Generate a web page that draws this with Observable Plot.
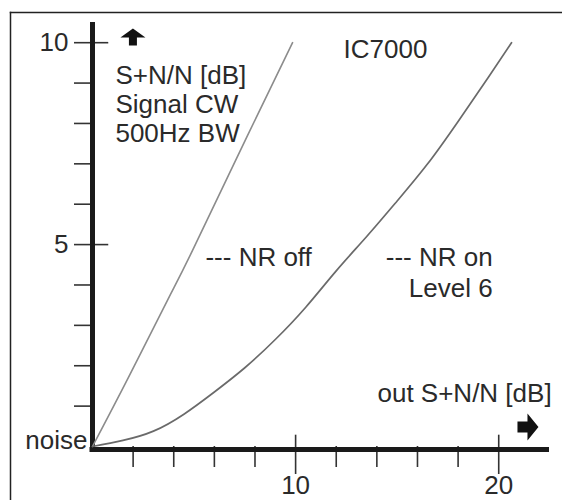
<!DOCTYPE html>
<html><head><meta charset="utf-8">
<script src="https://cdn.jsdelivr.net/npm/d3@7"></script>
<script src="https://cdn.jsdelivr.net/npm/@observablehq/plot@0.6"></script>
<style>body{margin:0;background:#fff}</style>
</head><body><div id="chart"></div>
<script>
// Data
const nrOffX = [0, 1.77, 3.69, 4.92, 7.63, 9.85];
const nrOffY = [0, 1.71, 3.62, 4.85, 7.7, 10];
const nrOnX = [0, 1.5, 3, 4.5, 6, 7.5, 9, 10.5, 12, 13.5, 15, 16.5, 18, 19.5, 20.63];
const nrOnY = [0, 0.15, 0.38, 0.8, 1.35, 1.95, 2.65, 3.45, 4.35, 5.2, 6.08, 7.0, 8.05, 9.15, 10];
const xMajorTicks = [10, 20];
const xMinorTicks = [2, 4, 6, 8, 12, 14, 16, 18];
const yMajorTicks = [5, 10];
const yMinorTicks = [1, 2, 3, 4, 6, 7, 8, 9];
const startNotes = [
  {text: "IC7000", x: 12.36, y: 9.63},
  {text: "--- NR off", x: 5.56, y: 4.48},
  {text: "out S+N/N [dB]", x: 14.03, y: 1.09}
];
const yTitle = [{text: "S+N/N [dB]\nSignal CW\n500Hz BW", x: 1.13, y: 7.53}];
const nrOnNote = [{text: "--- NR on\nLevel 6", x: 19.7, y: 3.69}];
const noiseNote = [{text: "noise", x: -0.25, y: -0.07}];
const upArrows = [{x: 1.99, y: 10.14}];
const rightArrows = [{x: 21.44, y: 0.48}];

const offData = nrOffX.map((x, i) => ({x, y: nrOffY[i]}));
const onData = nrOnX.map((x, i) => ({x, y: nrOnY[i]}));

const upArrow = {draw(c) {
  c.moveTo(0, -8.5); c.lineTo(12.5, 0.5); c.lineTo(4, 0.5); c.lineTo(4, 8.5);
  c.lineTo(-4, 8.5); c.lineTo(-4, 0.5); c.lineTo(-12.5, 0.5); c.closePath();
}};
const rightArrow = {draw(c) {
  c.moveTo(10.5, 0); c.lineTo(-0.5, 13.5); c.lineTo(-0.5, 5.5); c.lineTo(-10.5, 5.5);
  c.lineTo(-10.5, -5.5); c.lineTo(-0.5, -5.5); c.lineTo(-0.5, -13.5); c.closePath();
}};

const ink = "#2a2a2a";
const fs = 26;

const chart = Plot.plot({
  width: 562, height: 500,
  marginLeft: 92, marginRight: 13, marginTop: 22, marginBottom: 54,
  x: {domain: [0, 22.5], axis: null},
  y: {domain: [0, 10.5], axis: null},
  style: {fontFamily: "'Liberation Sans', Arial, sans-serif", color: ink, background: "#fff"},
  marks: [
    Plot.frame({anchor: "left", insetLeft: -82, insetTop: -10, insetBottom: -54, stroke: "#222", strokeWidth: 1.5}),
    Plot.frame({anchor: "top", insetLeft: -82, insetRight: -13, insetTop: -10, stroke: "#222", strokeWidth: 1.5}),
    Plot.axisX({ticks: xMinorTicks, tickSize: 21, tickFormat: () => "", label: null, stroke: "#333", strokeWidth: 1.6}),
    Plot.axisX({ticks: xMajorTicks, tickSize: 28, tickPadding: 1, fontSize: fs, label: null, stroke: "#333", strokeWidth: 1.6, fill: ink}),
    Plot.ruleX(xMajorTicks, {x: d => d, y1: 0, y2: 0.28, stroke: "#333", strokeWidth: 1.6}),
    Plot.axisY({ticks: yMinorTicks, tickSize: 18, tickFormat: () => "", label: null, stroke: "#333", strokeWidth: 1.6}),
    Plot.axisY({ticks: yMajorTicks, tickSize: 18, tickPadding: 6, fontSize: fs, label: null, stroke: "#333", strokeWidth: 1.6, fill: ink}),
    Plot.ruleY(yMajorTicks, {y: d => d, x1: 0, x2: 0.8, stroke: "#333", strokeWidth: 1.6}),
    Plot.ruleX([0], {stroke: "#1a1a1a", strokeWidth: 5, insetBottom: -5}),
    Plot.ruleY([0], {stroke: "#1a1a1a", strokeWidth: 5, dy: 3, insetLeft: -2.5}),
    Plot.line(offData, {x: "x", y: "y", curve: "natural", stroke: "#8c8c8c", strokeWidth: 1.6}),
    Plot.line(onData, {x: "x", y: "y", curve: "natural", stroke: "#6a6a6a", strokeWidth: 1.7}),
    Plot.text(startNotes, {x: "x", y: "y", text: "text", textAnchor: "start", lineAnchor: "bottom", fontSize: fs, fill: ink}),
    Plot.text(yTitle, {x: "x", y: "y", text: "text", textAnchor: "start", lineAnchor: "bottom", lineHeight: 1.12, fontSize: fs, fill: ink}),
    Plot.text(nrOnNote, {x: "x", y: "y", text: "text", textAnchor: "end", lineAnchor: "bottom", lineHeight: 1.23, fontSize: fs, fill: ink}),
    Plot.text(noiseNote, {x: "x", y: "y", text: "text", textAnchor: "end", lineAnchor: "bottom", fontSize: fs, fill: ink}),
    Plot.dot(upArrows, {x: "x", y: "y", symbol: upArrow, fill: "#111", stroke: "none"}),
    Plot.dot(rightArrows, {x: "x", y: "y", symbol: rightArrow, fill: "#111", stroke: "none"})
  ]
});
document.getElementById("chart").appendChild(chart);
</script>
</body></html>
